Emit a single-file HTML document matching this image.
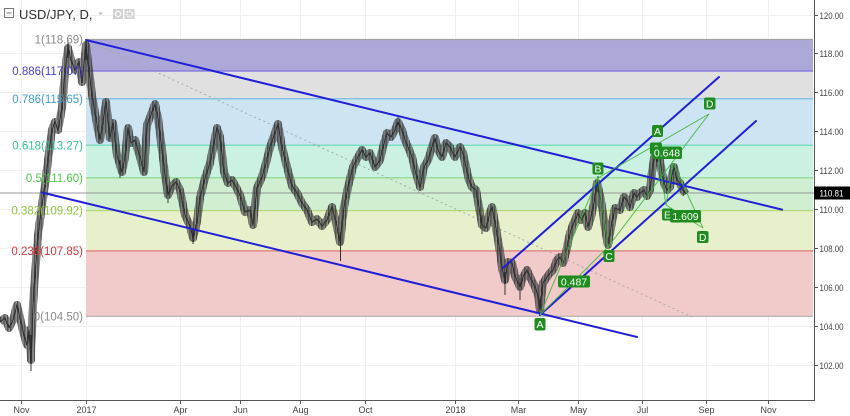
<!DOCTYPE html>
<html><head><meta charset="utf-8">
<style>
html,body{margin:0;padding:0;background:#fff;}
svg{display:block;font-family:"Liberation Sans",sans-serif;}
</style></head><body>
<svg width="850" height="416" viewBox="0 0 850 416" xmlns="http://www.w3.org/2000/svg">
<defs>
<pattern id="st" x="0" y="0" width="1.42" height="6" patternUnits="userSpaceOnUse">
<rect x="0" y="0" width="0.75" height="6" fill="#262626"/>
</pattern>
<polyline id="kp" fill="none" points="0,322 5,318 9,328 13,320 17,305 20,318 24,335 27,345 29,330 31,360 33,305 35,275 38,235 42,205 45,185 48,160 52,130 55,122 58,130 62,108 65,72 68,48 71,60 75,70 79,62 82,82 86,45 89,70 92,95 95,113 98,130 100,140 103,122 106,102 110,138 113,123 117,155 122,172 125,157 128,128 131,143 135,140 140,157 144,172 147,125 152,112 155,104 158,118 162,150 165,175 168,195 172,186 176,182 180,190 185,215 190,226 193,238 197,222 200,198 205,178 210,163 213,148 217,128 220,137 224,172 228,183 232,180 236,187 240,195 245,212 250,210 253,225 257,188 262,177 266,163 270,147 275,133 278,124 282,147 287,167 292,186 297,193 302,203 307,210 312,222 317,219 322,226 327,220 332,207 336,222 340,242 344,207 348,187 353,167 358,157 362,150 366,157 370,153 375,167 380,160 383,147 387,133 391,137 395,130 398,122 402,130 405,140 408,147 412,157 415,170 418,180 420,187 424,167 428,160 432,147 435,138 438,150 442,157 446,143 450,147 455,157 460,147 463,153 466,167 469,180 472,187 476,190 479,207 482,225 486,228 490,212 492,207 495,222 500,252 502,268 505,280 508,262 512,263 515,276 520,287 523,277 527,270 530,277 535,287 538,295 540,310 543,283 547,277 550,273 553,270 557,260 560,257 563,263 566,253 569,237 572,227 575,220 578,213 581,220 585,213 588,227 591,217 594,203 597,183 600,195 603,213 606,235 608,245 612,222 615,208 620,210 624,197 627,200 630,207 634,193 637,197 640,193 644,190 647,196 650,190 652,172 654,158 657,152 660,160 662,173 664,183 667,190 670,187 672,175 674,167 677,180 680,183 683,190 686,194"/>
</defs>
<rect width="850" height="416" fill="#fff"/>
<!-- grid -->
<g stroke="#f0f0f0" stroke-width="1">
<line x1="21.5" y1="0" x2="21.5" y2="400"/><line x1="86.5" y1="0" x2="86.5" y2="400"/>
<line x1="180.5" y1="0" x2="180.5" y2="400"/><line x1="240.5" y1="0" x2="240.5" y2="400"/>
<line x1="300.5" y1="0" x2="300.5" y2="400"/><line x1="365.5" y1="0" x2="365.5" y2="400"/>
<line x1="455.5" y1="0" x2="455.5" y2="400"/><line x1="518.5" y1="0" x2="518.5" y2="400"/>
<line x1="578.5" y1="0" x2="578.5" y2="400"/><line x1="642.5" y1="0" x2="642.5" y2="400"/>
<line x1="706.5" y1="0" x2="706.5" y2="400"/><line x1="768.5" y1="0" x2="768.5" y2="400"/>
<line x1="0" y1="15.5" x2="814" y2="15.5"/><line x1="0" y1="53.5" x2="814" y2="53.5"/>
<line x1="0" y1="92.5" x2="814" y2="92.5"/><line x1="0" y1="131.5" x2="814" y2="131.5"/>
<line x1="0" y1="170.5" x2="814" y2="170.5"/><line x1="0" y1="209.5" x2="814" y2="209.5"/>
<line x1="0" y1="248.5" x2="814" y2="248.5"/><line x1="0" y1="287.5" x2="814" y2="287.5"/>
<line x1="0" y1="326.5" x2="814" y2="326.5"/><line x1="0" y1="365.5" x2="814" y2="365.5"/>
</g>
<!-- fib bands -->
<rect x="86" y="39.5" width="727" height="31.5" fill="#aca8d8"/>
<rect x="86" y="71" width="727" height="27.8" fill="#e0e0e0"/>
<rect x="86" y="98.8" width="727" height="46.4" fill="#cde4f2"/>
<rect x="86" y="145.2" width="727" height="32.6" fill="#caf1e2"/>
<rect x="86" y="177.8" width="727" height="32.8" fill="#d0eed2"/>
<rect x="86" y="210.6" width="727" height="40.3" fill="#e6f1cc"/>
<rect x="86" y="250.9" width="727" height="65.35" fill="#f1caca"/>
<!-- fib lines -->
<g stroke-width="1.2">
<line x1="86" y1="39.5" x2="813" y2="39.5" stroke="#a0a0a0"/>
<line x1="86" y1="71" x2="813" y2="71" stroke="#7b70e0"/>
<line x1="86" y1="98.8" x2="813" y2="98.8" stroke="#6ab8e2"/>
<line x1="86" y1="145.2" x2="813" y2="145.2" stroke="#62d8b2"/>
<line x1="86" y1="177.8" x2="813" y2="177.8" stroke="#84d884"/>
<line x1="86" y1="210.6" x2="813" y2="210.6" stroke="#b4da78"/>
<line x1="86" y1="250.9" x2="813" y2="250.9" stroke="#e07878"/>
<line x1="86" y1="316.3" x2="813" y2="316.3" stroke="#b0b0b0"/>
</g>
<!-- dashed fib trend line -->
<line x1="86" y1="40" x2="692" y2="317" stroke="#a8a8a8" stroke-width="1" stroke-dasharray="2,3"/>
<!-- current price line -->
<line x1="0" y1="193" x2="814" y2="193" stroke="#8a8a8a" stroke-opacity="0.7" stroke-width="1.2"/>
<!-- candles approximation -->
<use href="#kp" stroke="#777" stroke-opacity="0.4" stroke-width="8" stroke-linejoin="round" stroke-linecap="butt"/>
<use href="#kp" stroke="url(#st)" stroke-width="8" stroke-linejoin="round" stroke-linecap="butt"/>
<use href="#kp" stroke="#333" stroke-width="1.3" stroke-linejoin="round"/>
<g stroke="#222" stroke-width="0.9">
<line x1="31" y1="335" x2="31" y2="371"/>
<line x1="340.5" y1="232" x2="340.5" y2="261"/>
<line x1="540" y1="296" x2="540" y2="316"/>
<line x1="505" y1="272" x2="505" y2="295"/>
<line x1="86" y1="40" x2="86" y2="60"/>
<line x1="68" y1="40" x2="68" y2="58"/>
<line x1="398" y1="116" x2="398" y2="132"/>
<line x1="657" y1="145" x2="657" y2="162"/>
<line x1="598" y1="176" x2="598" y2="192"/>
<line x1="193" y1="228" x2="193" y2="244"/>
<line x1="120" y1="160" x2="120" y2="178"/>
<line x1="168" y1="185" x2="168" y2="203"/>
<line x1="482" y1="215" x2="482" y2="234"/>
<line x1="520" y1="278" x2="520" y2="300"/>
</g>
<!-- fib labels -->
<g font-size="11.5" text-anchor="end">
<text x="83" y="43.5" fill="#8a8a8a">1(118.69)</text>
<text x="83" y="75" fill="#4a3fd0">0.886(117.07)</text>
<text x="83" y="103" fill="#3e9ed8">0.786(115.65)</text>
<text x="83" y="149.5" fill="#35c38f">0.618(113.27)</text>
<text x="83" y="182" fill="#4cc84c">0.5(111.60)</text>
<text x="83" y="214.5" fill="#8ec63f">0.382(109.92)</text>
<text x="83" y="255" fill="#d8363b">0.236(107.85)</text>
<text x="83" y="320.5" fill="#8a8a8a">0(104.50)</text>
</g>
<!-- blue trend/channel lines -->
<g stroke="#1f1fd8" stroke-width="2" stroke-linecap="round">
<line x1="86" y1="40" x2="782" y2="209.6"/>
<line x1="42" y1="192.5" x2="637" y2="337"/>
<line x1="503" y1="268" x2="719" y2="77"/>
<line x1="540" y1="315" x2="756" y2="121"/>
</g>
<!-- green pattern lines -->
<g stroke="#3cb43c" stroke-width="1" stroke-opacity="0.85" fill="none">
<line x1="540" y1="315" x2="598" y2="178"/>
<line x1="598" y1="178" x2="608" y2="247"/>
<line x1="608" y1="247" x2="709" y2="114"/>
<line x1="598" y1="178" x2="709" y2="114"/>
<line x1="540" y1="315" x2="608" y2="247"/>
<line x1="657" y1="147" x2="666" y2="205"/>
<line x1="666" y1="205" x2="673" y2="163"/>
<line x1="673" y1="163" x2="703" y2="228"/>
<line x1="666" y1="205" x2="703" y2="228"/>
</g>
<!-- green labels -->
<g font-size="10.5" fill="#fff" text-anchor="middle">
<rect x="534.5" y="318" width="11" height="12.5" rx="2" fill="#1f8c1f"/><text x="540" y="328">A</text>
<rect x="558" y="275.5" width="32" height="12" rx="2" fill="#1f8c1f"/><text x="574" y="285.5">0.487</text>
<rect x="603.5" y="250" width="11" height="12" rx="2" fill="#1f8c1f"/><text x="609" y="260">C</text>
<rect x="592.5" y="162.5" width="11" height="12" rx="2" fill="#1f8c1f"/><text x="598" y="172.5">B</text>
<rect x="652" y="125" width="11" height="12" rx="2" fill="#1f8c1f"/><text x="657.5" y="135">A</text>
<rect x="704" y="97.5" width="11.5" height="12" rx="2" fill="#1f8c1f"/><text x="709.7" y="107.5">D</text>
<rect x="650" y="142.5" width="12" height="12" rx="2" fill="#1f8c1f"/><text x="656" y="152.5">3</text>
<rect x="652" y="146.5" width="30" height="12.5" rx="2" fill="#1f8c1f"/><text x="667" y="156.5">0.648</text>
<rect x="662" y="208.5" width="11" height="12" rx="2" fill="#1f8c1f"/><text x="667.5" y="218.5">E</text>
<rect x="670" y="210" width="31" height="12.5" rx="2" fill="#1f8c1f"/><text x="685.5" y="220">1.609</text>
<rect x="697" y="231" width="11.5" height="12" rx="2" fill="#1f8c1f"/><text x="702.7" y="241">D</text>
</g>
<!-- axes -->
<rect x="814.5" y="0" width="35.5" height="416" fill="#fff"/>
<rect x="0" y="400.5" width="850" height="15.5" fill="#fff"/>
<line x1="814.5" y1="0" x2="814.5" y2="401" stroke="#555" stroke-width="1"/>
<line x1="0" y1="400.5" x2="815" y2="400.5" stroke="#555" stroke-width="1"/>
<g stroke="#555" stroke-width="1">
<line x1="814" y1="15.5" x2="818" y2="15.5"/><line x1="814" y1="53.5" x2="818" y2="53.5"/>
<line x1="814" y1="92.5" x2="818" y2="92.5"/><line x1="814" y1="131.5" x2="818" y2="131.5"/>
<line x1="814" y1="170.5" x2="818" y2="170.5"/><line x1="814" y1="209.5" x2="818" y2="209.5"/>
<line x1="814" y1="248.5" x2="818" y2="248.5"/><line x1="814" y1="287.5" x2="818" y2="287.5"/>
<line x1="814" y1="326.5" x2="818" y2="326.5"/><line x1="814" y1="365.5" x2="818" y2="365.5"/>
<line x1="21.5" y1="400" x2="21.5" y2="404"/><line x1="86.5" y1="400" x2="86.5" y2="404"/>
<line x1="180.5" y1="400" x2="180.5" y2="404"/><line x1="240.5" y1="400" x2="240.5" y2="404"/>
<line x1="300.5" y1="400" x2="300.5" y2="404"/><line x1="365.5" y1="400" x2="365.5" y2="404"/>
<line x1="455.5" y1="400" x2="455.5" y2="404"/><line x1="518.5" y1="400" x2="518.5" y2="404"/>
<line x1="578.5" y1="400" x2="578.5" y2="404"/><line x1="642.5" y1="400" x2="642.5" y2="404"/>
<line x1="706.5" y1="400" x2="706.5" y2="404"/><line x1="768.5" y1="400" x2="768.5" y2="404"/>
</g>
<g font-size="9.5" fill="#444">
<text x="819.5" y="18.8" textLength="24" lengthAdjust="spacingAndGlyphs">120.00</text>
<text x="819.5" y="56.8" textLength="24" lengthAdjust="spacingAndGlyphs">118.00</text>
<text x="819.5" y="95.8" textLength="24" lengthAdjust="spacingAndGlyphs">116.00</text>
<text x="819.5" y="134.8" textLength="24" lengthAdjust="spacingAndGlyphs">114.00</text>
<text x="819.5" y="173.8" textLength="24" lengthAdjust="spacingAndGlyphs">112.00</text>
<text x="819.5" y="212.8" textLength="24" lengthAdjust="spacingAndGlyphs">110.00</text>
<text x="819.5" y="251.8" textLength="24" lengthAdjust="spacingAndGlyphs">108.00</text>
<text x="819.5" y="290.8" textLength="24" lengthAdjust="spacingAndGlyphs">106.00</text>
<text x="819.5" y="329.8" textLength="24" lengthAdjust="spacingAndGlyphs">104.00</text>
<text x="819.5" y="368.8" textLength="24" lengthAdjust="spacingAndGlyphs">102.00</text>
</g>
<rect x="814" y="186.5" width="36" height="13" fill="#000"/>
<text x="819.5" y="196.5" font-size="9.5" fill="#fff" textLength="24" lengthAdjust="spacingAndGlyphs">110.81</text>
<g font-size="9" fill="#444" text-anchor="middle">
<text x="21.5" y="413">Nov</text><text x="86.5" y="413">2017</text>
<text x="180.5" y="413">Apr</text><text x="240.5" y="413">Jun</text>
<text x="300.5" y="413">Aug</text><text x="365.5" y="413">Oct</text>
<text x="455.5" y="413">2018</text><text x="518.5" y="413">Mar</text>
<text x="578.5" y="413">May</text><text x="642.5" y="413">Jul</text>
<text x="706.5" y="413">Sep</text><text x="768.5" y="413">Nov</text>
</g>
<!-- header -->
<rect x="4.5" y="8.5" width="9" height="9" fill="none" stroke="#777" stroke-width="1"/>
<line x1="6.5" y1="13" x2="11.5" y2="13" stroke="#777" stroke-width="1"/>
<text x="19" y="19" font-size="13" fill="#333">USD/JPY, D,</text>
<path d="M98 12.5 h5 l-2.5 2.5 z" fill="#bbb"/>
<rect x="113" y="9" width="10" height="10" fill="#d2d2d2"/>
<circle cx="118" cy="14" r="2.6" fill="none" stroke="#fff" stroke-width="1.2"/>
<rect x="124.5" y="9" width="10" height="10" fill="#d2d2d2"/>
<circle cx="129.5" cy="14" r="2.8" fill="none" stroke="#fff" stroke-width="1.8" stroke-dasharray="1.5,1"/>
</svg>
</body></html>
